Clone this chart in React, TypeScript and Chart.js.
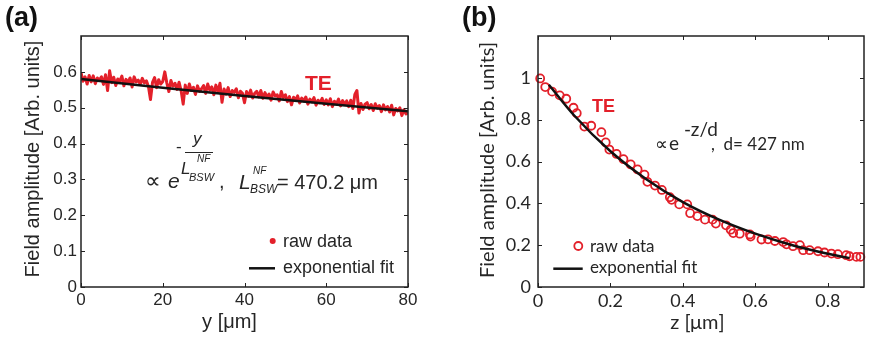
import React, { useEffect, useRef } from "react";
import { Chart, registerables } from "chart.js";

Chart.register(...registerables);

// ---------------- Panel (a) data ----------------
const rawAStep = 0.5; // μm between samples
const rawAAmp = [
  0.598, 0.574, 0.586, 0.566, 0.590, 0.572, 0.589, 0.567, 0.583, 0.577,
  0.586, 0.565, 0.592, 0.548, 0.603, 0.570, 0.585, 0.562, 0.580, 0.574,
  0.588, 0.561, 0.579, 0.570, 0.583, 0.558, 0.586, 0.572, 0.577, 0.565,
  0.582, 0.569, 0.575, 0.559, 0.523, 0.571, 0.584, 0.556, 0.578, 0.566,
  0.573, 0.600, 0.569, 0.545, 0.576, 0.560, 0.568, 0.551, 0.571, 0.547,
  0.510, 0.563, 0.540, 0.566, 0.548, 0.557, 0.537, 0.561, 0.545, 0.553,
  0.562, 0.540, 0.566, 0.549, 0.558, 0.536, 0.563, 0.544, 0.568, 0.515,
  0.552, 0.538, 0.556, 0.531, 0.548, 0.543, 0.553, 0.528, 0.546, 0.540,
  0.514, 0.545, 0.532, 0.549, 0.527, 0.540, 0.546, 0.530, 0.548, 0.526,
  0.542, 0.530, 0.538, 0.521, 0.544, 0.533, 0.536, 0.519, 0.545, 0.528,
  0.536, 0.517, 0.531, 0.508, 0.529, 0.522, 0.533, 0.513, 0.527, 0.519,
  0.530, 0.510, 0.524, 0.516, 0.528, 0.507, 0.521, 0.514, 0.526, 0.509,
  0.522, 0.508, 0.525, 0.503, 0.518, 0.511, 0.524, 0.505, 0.520, 0.509,
  0.519, 0.503, 0.521, 0.498, 0.537, 0.548, 0.485, 0.512, 0.495, 0.510,
  0.514, 0.497, 0.509, 0.492, 0.511, 0.499, 0.506, 0.489, 0.508, 0.494,
  0.503, 0.488, 0.507, 0.480, 0.498, 0.491, 0.500, 0.478, 0.494, 0.483,
  0.486,
];
const fitAY = [0, 20, 40, 60, 80];
const fitAAmp = [0.58, 0.556, 0.533, 0.511, 0.49];
const xTicksA = [0, 20, 40, 60, 80];
const yTicksA = [0, 0.1, 0.2, 0.3, 0.4, 0.5, 0.6];

// ---------------- Panel (b) data ----------------
const rawBZ = [
  0.006, 0.02, 0.039, 0.06, 0.078, 0.098, 0.107, 0.128, 0.147, 0.175,
  0.187, 0.197, 0.217, 0.236, 0.256, 0.275, 0.294, 0.302, 0.323, 0.342,
  0.364, 0.369, 0.39, 0.412, 0.42, 0.44, 0.461, 0.482, 0.491, 0.519,
  0.532, 0.539, 0.557, 0.585, 0.587, 0.617, 0.635, 0.654, 0.677, 0.686,
  0.704, 0.723, 0.732, 0.75, 0.773, 0.791, 0.81, 0.828, 0.851, 0.86,
  0.879, 0.89,
];
const rawBAmp = [
  0.997, 0.956, 0.934, 0.916, 0.9, 0.857, 0.831, 0.767, 0.771, 0.74,
  0.691, 0.657, 0.636, 0.611, 0.586, 0.562, 0.537, 0.503, 0.485, 0.464,
  0.429, 0.417, 0.395, 0.395, 0.353, 0.339, 0.322, 0.322, 0.303, 0.295,
  0.274, 0.258, 0.255, 0.251, 0.241, 0.227, 0.228, 0.22, 0.215, 0.204,
  0.195, 0.2, 0.176, 0.176, 0.171, 0.165, 0.16, 0.157, 0.152, 0.147,
  0.144, 0.144,
];
const fitBZ = [0.03, 0.1, 0.2, 0.3, 0.4, 0.5, 0.6, 0.7, 0.8, 0.86];
const fitBAmp = [0.967, 0.82, 0.649, 0.514, 0.406, 0.322, 0.255, 0.201, 0.159, 0.138];
const xTicksB = [0, 0.2, 0.4, 0.6, 0.8];
const yTicksB = [0, 0.2, 0.4, 0.6, 0.8, 1];

// ---------------- styles ----------------
const RED = "#e3202a";
const INK = "#262626";
const FIT = "#111111";
const FONT_A = "'Liberation Sans', Arial, Helvetica, sans-serif";
const FONT_B = "Lato, 'Liberation Sans', sans-serif";

type Txt = {
  s: string;
  x: number;
  y: number;
  font: string;
  color?: string;
  align?: CanvasTextAlign;
};

function drawText(ctx: CanvasRenderingContext2D, t: Txt) {
  ctx.save();
  ctx.font = t.font;
  ctx.fillStyle = t.color || INK;
  ctx.textAlign = t.align || "left";
  ctx.textBaseline = "alphabetic";
  ctx.fillText(t.s, t.x, t.y);
  ctx.restore();
}

function drawFrame(chart: any, xt: number[], yt: number[]) {
  const ctx: CanvasRenderingContext2D = chart.ctx;
  const { left, top, right, bottom } = chart.chartArea;
  const xs = chart.scales.x;
  const ys = chart.scales.y;
  ctx.save();
  ctx.strokeStyle = "#222";
  ctx.lineWidth = 1;
  const tl = 4;
  ctx.beginPath();
  xt.forEach((v) => {
    const px = Math.round(xs.getPixelForValue(v)) + 0.5;
    ctx.moveTo(px, bottom);
    ctx.lineTo(px, bottom - tl);
    ctx.moveTo(px, top);
    ctx.lineTo(px, top + tl);
  });
  yt.forEach((v) => {
    const py = Math.round(ys.getPixelForValue(v)) + 0.5;
    ctx.moveTo(left, py);
    ctx.lineTo(left + tl, py);
    ctx.moveTo(right, py);
    ctx.lineTo(right - tl, py);
  });
  ctx.stroke();
  ctx.lineWidth = 1.5;
  ctx.strokeRect(left, top, right - left, bottom - top);
  ctx.restore();
}

function drawRotated(ctx: CanvasRenderingContext2D, s: string, x: number, y: number, font: string) {
  ctx.save();
  ctx.translate(x, y);
  ctx.rotate(-Math.PI / 2);
  ctx.font = font;
  ctx.fillStyle = INK;
  ctx.textAlign = "center";
  ctx.textBaseline = "middle";
  ctx.fillText(s, 0, 0);
  ctx.restore();
}

const decorA = {
  id: "decorA",
  afterDraw(chart: any) {
    const ctx: CanvasRenderingContext2D = chart.ctx;
    drawFrame(chart, xTicksA, yTicksA);
    const F = FONT_A;
    drawText(ctx, { s: "(a)", x: 5, y: 26, font: `bold 27px ${F}`, color: "#111" });
    drawRotated(ctx, "Field amplitude [Arb. units]", 33, 159, `20px ${F}`);
    drawText(ctx, { s: "y [μm]", x: 229.5, y: 328, font: `20px ${F}`, align: "center" });
    drawText(ctx, { s: "TE", x: 305, y: 90, font: `bold 21px ${F}`, color: RED });

    // equation
    drawText(ctx, { s: "∝", x: 145, y: 188, font: `22px ${F}` });
    drawText(ctx, { s: "e", x: 168, y: 188, font: `italic 21px ${F}` });
    drawText(ctx, { s: "-", x: 176, y: 152, font: `17px ${F}` });
    drawText(ctx, { s: "y", x: 193, y: 144, font: `italic 17px ${F}` });
    ctx.save();
    ctx.strokeStyle = INK;
    ctx.lineWidth = 1;
    ctx.beginPath();
    ctx.moveTo(185, 152.5);
    ctx.lineTo(213, 152.5);
    ctx.stroke();
    ctx.restore();
    drawText(ctx, { s: "L", x: 181, y: 174, font: `italic 17px ${F}` });
    drawText(ctx, { s: "NF", x: 197, y: 162, font: `italic 10px ${F}` });
    drawText(ctx, { s: "BSW", x: 189, y: 181, font: `italic 11px ${F}` });
    drawText(ctx, { s: ",", x: 219, y: 188, font: `20px ${F}` });
    drawText(ctx, { s: "L", x: 239, y: 189, font: `italic 21px ${F}` });
    drawText(ctx, { s: "NF", x: 253, y: 174, font: `italic 10px ${F}` });
    drawText(ctx, { s: "BSW", x: 250, y: 193, font: `italic 12px ${F}` });
    drawText(ctx, { s: "= 470.2 μm", x: 277, y: 189, font: `20px ${F}` });

    // legend
    ctx.save();
    ctx.fillStyle = RED;
    ctx.beginPath();
    ctx.arc(272.7, 241, 3, 0, Math.PI * 2);
    ctx.fill();
    ctx.strokeStyle = FIT;
    ctx.lineWidth = 2.5;
    ctx.beginPath();
    ctx.moveTo(249, 268.3);
    ctx.lineTo(275, 268.3);
    ctx.stroke();
    ctx.restore();
    drawText(ctx, { s: "raw data", x: 283, y: 247, font: `18px ${F}` });
    drawText(ctx, { s: "exponential fit", x: 283, y: 273, font: `18px ${F}` });
  },
};

const decorB = {
  id: "decorB",
  afterDraw(chart: any) {
    const ctx: CanvasRenderingContext2D = chart.ctx;
    drawFrame(chart, xTicksB, yTicksB);
    const F = FONT_B;
    drawText(ctx, { s: "(b)", x: 22, y: 26, font: `bold 27px ${FONT_A}`, color: "#111" });
    drawRotated(ctx, "Field amplitude [Arb. units]", 48, 160, `20px ${F}`);
    drawText(ctx, { s: "z [μm]", x: 257.5, y: 329, font: `20px ${F}`, align: "center" });
    drawText(ctx, { s: "TE", x: 152, y: 112, font: `bold 18px ${FONT_A}`, color: RED });

    drawText(ctx, { s: "∝", x: 215, y: 150, font: `18px ${FONT_A}` });
    drawText(ctx, { s: "e", x: 229, y: 150, font: `19px ${F}` });
    drawText(ctx, { s: "-z/d", x: 244, y: 136, font: `19px ${F}` });
    drawText(ctx, { s: ",  d= 427 nm", x: 271, y: 150, font: `17px ${F}` });

    // legend
    ctx.save();
    ctx.strokeStyle = RED;
    ctx.lineWidth = 1.8;
    ctx.beginPath();
    ctx.arc(138.3, 246, 4, 0, Math.PI * 2);
    ctx.stroke();
    ctx.strokeStyle = FIT;
    ctx.lineWidth = 2.5;
    ctx.beginPath();
    ctx.moveTo(113.3, 268.7);
    ctx.lineTo(142.7, 268.7);
    ctx.stroke();
    ctx.restore();
    drawText(ctx, { s: "raw data", x: 150, y: 252, font: `17px ${F}` });
    drawText(ctx, { s: "exponential fit", x: 150, y: 273, font: `17px ${F}` });
  },
};

function scaleCfg(opts: {
  min: number;
  max: number;
  ticks: number[];
  font: string;
  size: number;
  padding: number;
  fit: (s: any) => void;
}) {
  return {
    type: "linear" as const,
    min: opts.min,
    max: opts.max,
    afterBuildTicks: (s: any) => {
      s.ticks = opts.ticks.map((v) => ({ value: v }));
    },
    afterFit: opts.fit,
    grid: { display: false, drawTicks: false },
    border: { display: false },
    ticks: {
      autoSkip: false,
      maxRotation: 0,
      padding: opts.padding,
      color: INK,
      font: { family: opts.font, size: opts.size },
      callback: (v: any) => String(Number(v)),
    },
  };
}

function makeChartA(canvas: HTMLCanvasElement) {
  return new Chart(canvas, {
    type: "line",
    data: {
      datasets: [
        {
          label: "exponential fit",
          data: fitAY.map((x, i) => ({ x, y: fitAAmp[i] })),
          borderColor: FIT,
          borderWidth: 2.5,
          pointRadius: 0,
          fill: false,
        },
        {
          label: "raw data",
          data: rawAAmp.map((y, i) => ({ x: i * rawAStep, y })),
          borderColor: RED,
          borderWidth: 3,
          borderJoinStyle: "round",
          pointRadius: 0,
          fill: false,
        },
      ],
    },
    options: {
      responsive: false,
      animation: false,
      layout: { padding: { left: 0, top: 36, right: 32, bottom: 0 } },
      plugins: { legend: { display: false }, tooltip: { enabled: false } },
      scales: {
        x: scaleCfg({ min: 0, max: 80, ticks: xTicksA, font: FONT_A, size: 17, padding: 3, fit: (s) => { s.height = 53; } }),
        y: scaleCfg({ min: 0, max: 0.7, ticks: yTicksA, font: FONT_A, size: 17, padding: 4, fit: (s) => { s.width = 81; } }),
      },
    },
    plugins: [decorA],
  } as any);
}

function makeChartB(canvas: HTMLCanvasElement) {
  return new Chart(canvas, {
    type: "line",
    data: {
      datasets: [
        {
          label: "exponential fit",
          data: fitBZ.map((x, i) => ({ x, y: fitBAmp[i] })),
          borderColor: FIT,
          borderWidth: 2.5,
          pointRadius: 0,
          cubicInterpolationMode: "monotone",
          fill: false,
        },
        {
          label: "raw data",
          data: rawBZ.map((x, i) => ({ x, y: rawBAmp[i] })),
          showLine: false,
          borderColor: RED,
          backgroundColor: "rgba(0,0,0,0)",
          pointBorderColor: RED,
          pointBackgroundColor: "rgba(0,0,0,0)",
          pointBorderWidth: 1.8,
          pointRadius: 4,
          clip: false,
        },
      ],
    },
    options: {
      responsive: false,
      animation: false,
      layout: { padding: { left: 0, top: 36, right: 16, bottom: 0 } },
      plugins: { legend: { display: false }, tooltip: { enabled: false } },
      scales: {
        x: scaleCfg({ min: 0, max: 0.9, ticks: xTicksB, font: FONT_B, size: 18, padding: 3, fit: (s) => { s.height = 53; } }),
        y: scaleCfg({ min: 0, max: 1.2, ticks: yTicksB, font: FONT_B, size: 18, padding: 7, fit: (s) => { s.width = 98; } }),
      },
    },
    plugins: [decorB],
  } as any);
}

export default function App() {
  const refA = useRef<HTMLCanvasElement | null>(null);
  const refB = useRef<HTMLCanvasElement | null>(null);

  useEffect(() => {
    if (!refA.current || !refB.current) return;
    const a = makeChartA(refA.current);
    const b = makeChartB(refB.current);
    return () => {
      a.destroy();
      b.destroy();
    };
  }, []);

  return (
    <div style={{ position: "fixed", left: 0, top: 0, width: 880, height: 340, background: "#fff" }}>
      <canvas ref={refA} width={440} height={340} style={{ position: "absolute", left: 0, top: 0, width: 440, height: 340 }} />
      <canvas ref={refB} width={440} height={340} style={{ position: "absolute", left: 440, top: 0, width: 440, height: 340 }} />
    </div>
  );
}
